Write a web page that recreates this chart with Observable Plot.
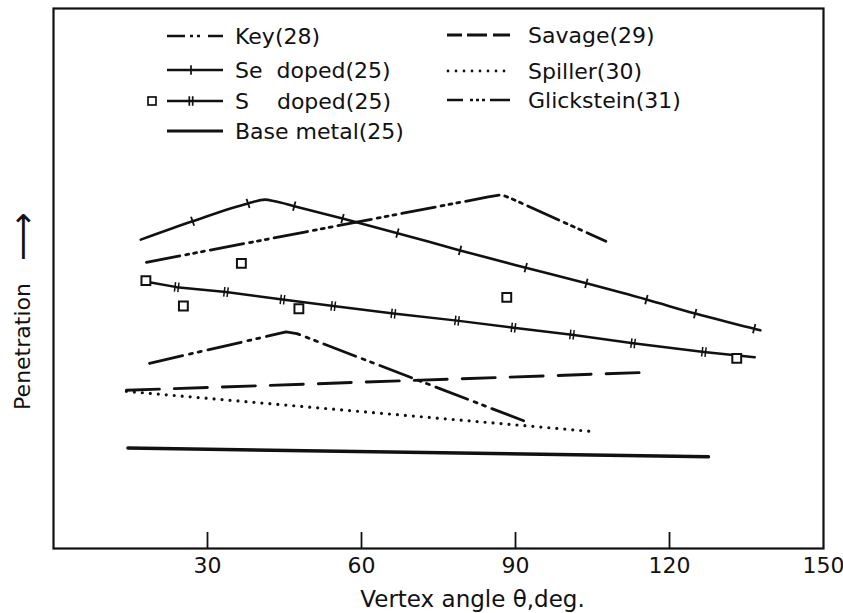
<!DOCTYPE html>
<html><head><meta charset="utf-8">
<script src="https://cdn.jsdelivr.net/npm/d3@7"></script>
<script src="https://cdn.jsdelivr.net/npm/@observablehq/plot@0.6"></script>
<style>
html,body{margin:0;padding:0;background:#fff;}
#chart{position:relative;width:843px;height:613px;overflow:hidden;}
</style></head><body><div id="chart"></div>
<script>
// ---- data (vertex angle in degrees, penetration in arbitrary units 0-100) ----
const xTickLabels = [30, 60, 90, 120, 150];
const xTickMarks = [30, 60, 90, 120];

const seDopedAngle = [17.0, 27.1, 37.9, 41.2, 43.1, 46.9, 56.3, 67.0, 79.2, 92.0, 103.8, 115.5, 125.0, 136.5, 137.7];
const seDopedPen   = [57.2, 60.6, 63.9, 64.6, 64.3, 63.4, 61.1, 58.4, 55.2, 52.0, 49.1, 46.1, 43.5, 40.7, 40.4];
const seTickUpAngle = [27.1, 37.9];
const seTickUpPen   = [60.6, 63.9];
const seTickDownAngle = [46.9, 56.3, 67.0, 79.2, 92.0, 103.8, 115.5, 125.0, 136.5];
const seTickDownPen   = [63.4, 61.1, 58.4, 55.2, 52.0, 49.1, 46.1, 43.5, 40.7];

const sDopedAngle = [18.1, 24.0, 33.6, 44.6, 54.5, 66.2, 78.6, 89.6, 101.0, 112.9, 126.7, 136.6];
const sDopedPen   = [49.4, 48.4, 47.5, 46.1, 44.9, 43.5, 42.2, 40.9, 39.6, 38.0, 36.4, 35.4];
const sTickAngle = [24.0, 33.6, 44.6, 54.5, 66.2, 78.6, 89.6, 101.0, 112.9, 126.7];
const sTickPen   = [48.4, 47.5, 46.1, 44.9, 43.5, 42.2, 40.9, 39.6, 38.0, 36.4];

const sPointsAngle = [18.0, 36.6, 25.3, 47.8, 88.3, 133.1];
const sPointsPen   = [49.6, 52.8, 44.9, 44.4, 46.5, 35.2];

const glicksteinAngle = [18.1, 84.7, 87.3, 89.2, 107.6];
const glicksteinPen   = [53.0, 65.1, 65.5, 64.8, 56.9];

const keyAngle = [18.7, 45.3, 47.4, 92.8];
const keyPen   = [34.3, 40.1, 39.8, 23.2];

const savageAngle = [14.2, 115.3];
const savagePen   = [29.3, 32.6];

const spillerAngle = [14.2, 104.6];
const spillerPen   = [29.1, 21.7];

const baseAngle = [14.5, 127.6];
const basePen   = [18.6, 17.0];

const legendLabels = ["Key(28)", "Se  doped(25)", "S    doped(25)", "Base metal(25)", "Savage(29)", "Spiller(30)", "Glickstein(31)"];
const xTitle = "Vertex angle θ,deg.";
const yTitle = "Penetration";

// ---- helpers ----
const pts = (a, p) => a.map((x, i) => ({x, y: p[i]}));
const ink = "#111";
function tickSymbol(deg, gap) {
  const t = deg * Math.PI / 180;
  return {draw(ctx, size) {
    const r = Math.sqrt(size / Math.PI);
    const px = -Math.sin(t) * r, py = Math.cos(t) * r;
    const offs = gap ? [-gap, gap] : [0];
    for (const o of offs) {
      const ox = Math.cos(t) * o, oy = Math.sin(t) * o;
      ctx.moveTo(ox - px, oy - py);
      ctx.lineTo(ox + px, oy + py);
    }
  }};
}

const plot = Plot.plot({
  width: 843, height: 613,
  marginLeft: 53, marginRight: 20, marginTop: 8, marginBottom: 65,
  style: {fontFamily: "DejaVu Sans", color: ink, background: "#fff", overflow: "visible"},
  x: {domain: [0, 150]},
  y: {domain: [0, 100], axis: null},
  marks: [
    Plot.tickX(xTickMarks, {x: d => d, insetTop: 524, stroke: ink, strokeWidth: 1.8}),
    Plot.axisX({ticks: xTickLabels, tickSize: 0, tickPadding: 9, fontSize: 22, label: null, tickFormat: d => d}),
    Plot.text([xTitle], {text: d => d, frameAnchor: "bottom", dx: 34, dy: 51, fontSize: 23, lineAnchor: "middle", textAnchor: "middle"}),
    Plot.text([yTitle], {text: d => d, frameAnchor: "left", rotate: -90, dx: -31, dy: 68, fontSize: 22, lineAnchor: "middle", textAnchor: "middle"}),
    Plot.text(["⟶"], {text: d => d, frameAnchor: "left", rotate: -90, dx: -30, dy: -42, fontSize: 34, lineAnchor: "middle", textAnchor: "middle"}),

    Plot.line(pts(baseAngle, basePen), {x: "x", y: "y", stroke: ink, strokeWidth: 3.4}),
    Plot.line(pts(spillerAngle, spillerPen), {x: "x", y: "y", stroke: ink, strokeWidth: 3.2, strokeDasharray: "0,8", strokeLinecap: "round"}),
    Plot.line(pts(savageAngle, savagePen), {x: "x", y: "y", stroke: ink, strokeWidth: 2.9, strokeDasharray: "33,15"}),
    Plot.line(pts(keyAngle, keyPen), {x: "x", y: "y", stroke: ink, strokeWidth: 2.8, strokeDasharray: "34,7,3,6,3,7", strokeLinejoin: "round"}),
    Plot.line(pts(glicksteinAngle, glicksteinPen), {x: "x", y: "y", stroke: ink, strokeWidth: 2.8, strokeDasharray: "34,6,3,5,3,5,3,6", strokeLinejoin: "round"}),
    Plot.line(pts(seDopedAngle, seDopedPen), {x: "x", y: "y", stroke: ink, strokeWidth: 2.6, curve: "monotone-x"}),
    Plot.line(pts(sDopedAngle, sDopedPen), {x: "x", y: "y", stroke: ink, strokeWidth: 2.5}),

    Plot.dot(pts(seTickUpAngle, seTickUpPen), {x: "x", y: "y", r: 4.8, symbol: tickSymbol(-19), stroke: ink, strokeWidth: 1.8, fill: "none"}),
    Plot.dot(pts(seTickDownAngle, seTickDownPen), {x: "x", y: "y", r: 4.8, symbol: tickSymbol(15), stroke: ink, strokeWidth: 1.8, fill: "none"}),
    Plot.dot(pts(sTickAngle, sTickPen), {x: "x", y: "y", r: 4.8, symbol: tickSymbol(7, 1.7), stroke: ink, strokeWidth: 1.5, fill: "none"}),
    Plot.dot(pts(sPointsAngle, sPointsPen), {x: "x", y: "y", r: 5, symbol: "square", stroke: ink, strokeWidth: 2, fill: "white"}),

    Plot.frame({stroke: ink, strokeWidth: 2.2})
  ]
});
const chart = document.getElementById("chart");
chart.appendChild(plot);

// ---- legend overlay ----
const lg = d3.select(chart).append("svg")
  .attr("width", 843).attr("height", 160)
  .style("position", "absolute").style("left", "0px").style("top", "0px")
  .style("font-family", "DejaVu Sans").style("font-size", "22px");
const c1 = {x1: 167, x2: 223, tx: 235};
const c2 = {x1: 447, x2: 510, tx: 528};
const items = [
  {col: c1, y: 36, dash: "18,5,3,4,3,8,15,100", w: 2.6, label: legendLabels[0]},
  {col: c1, y: 70, dash: null, w: 2.6, label: legendLabels[1], tick: tickSymbol(0)},
  {col: c1, y: 101, dash: null, w: 2.6, label: legendLabels[2], tick: tickSymbol(0, 1.7), square: true},
  {col: c1, y: 131, dash: null, w: 2.8, label: legendLabels[3]},
  {col: c2, y: 35, dash: "15,5,20,6,17,100", w: 2.9, label: legendLabels[4]},
  {col: c2, y: 71, dash: "0,8", w: 2.8, cap: "round", label: legendLabels[5]},
  {col: c2, y: 100, dash: "16,7,3,3,3,3,3,5,20,100", w: 2.7, label: legendLabels[6]}
];
for (const it of items) {
  const l = lg.append("line").attr("x1", it.col.x1 + (it.cap ? 1 : 0)).attr("x2", it.col.x2).attr("y1", it.y).attr("y2", it.y)
    .attr("stroke", ink).attr("stroke-width", it.w);
  if (it.dash) l.attr("stroke-dasharray", it.dash);
  if (it.cap) l.attr("stroke-linecap", it.cap);
  if (it.tick) {
    const p = d3.path(); it.tick.draw(p, 4.8 * 4.8 * Math.PI);
    lg.append("path").attr("d", p.toString()).attr("transform", `translate(191,${it.y})`).attr("stroke", ink).attr("stroke-width", 1.7).attr("fill", "none");
  }
  if (it.square) {
    lg.append("rect").attr("x", 148).attr("y", it.y - 4).attr("width", 8).attr("height", 8).attr("fill", "none").attr("stroke", ink).attr("stroke-width", 1.7);
  }
  lg.append("text").attr("x", it.col.tx).attr("y", it.y + 8).attr("fill", ink).style("white-space", "pre").attr("xml:space", "preserve").text(it.label);
}
</script></body></html>
